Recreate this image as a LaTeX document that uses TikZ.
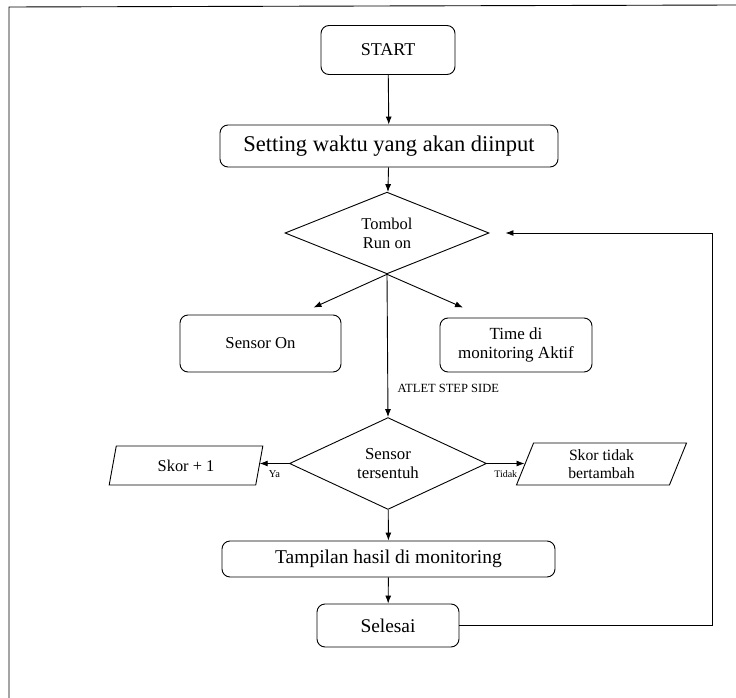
\documentclass[tikz,border=0pt]{standalone}
\usepackage{fontspec}
\setmainfont{Liberation Serif}
\usetikzlibrary{shapes.geometric,arrows.meta}

\begin{document}
\begin{tikzpicture}[x=1pt,y=-1pt,line width=0.9pt,
  box/.style={draw,rounded corners=8pt,inner sep=0pt,align=center},
  dec/.style={draw,diamond,inner sep=0pt,align=center},
  io/.style={draw,trapezium,trapezium stretches=true,inner sep=0pt,align=center},
  arr/.style={-{Latex[length=8pt,width=6pt]}}]
      \useasboundingbox (0,0) rectangle (736,698);
      \draw (9,698) -- (9,7) -- (736,5);
      \node[box,minimum width=134pt,minimum height=49pt,font=\fontsize{18}{21}\selectfont]
      (start) at (388,50) {START};
      \node[box,minimum width=338pt,minimum height=42pt,font=\fontsize{22.5}{26}\selectfont]
      (setting) at (389,146) {Setting waktu yang akan diinput};
      \node[dec,minimum width=204pt,minimum height=81pt,font=\fontsize{16.5}{19}\selectfont]
      (tombol) at (387,233) {Tombol\\Run on};
      \node[box,minimum width=161pt,minimum height=57pt,font=\fontsize{16.7}{19}\selectfont]
      (sensoron) at (260.5,343.5) {Sensor On};
      \node[box,minimum width=152pt,minimum height=54pt,font=\fontsize{17}{19}\selectfont]
      (timeon) at (516,345) {Time di\\monitoring Aktif};
      \node[dec,minimum width=197pt,minimum height=79pt,font=\fontsize{16.8}{19}\selectfont]
      (sensor) at (388,463.5) {Sensor\\tersentuh};
      \node[io,trapezium left angle=76,trapezium right angle=104,minimum width=154pt,
      minimum height=39pt,font=\fontsize{16.4}{19}\selectfont] (skorplus) at (186,465.5) {Skor + 1};
      \node[io,trapezium left angle=74,trapezium right angle=106,minimum width=171pt,
      minimum height=42pt,font=\fontsize{15.7}{18}\selectfont] (skortidak) at (601.5,464)
      {Skor tidak\\bertambah};
      \node[box,minimum width=333pt,minimum height=36pt,font=\fontsize{19.5}{22}\selectfont]
      (tampilan) at (388.5,559) {Tampilan hasil di monitoring};
      \node[box,minimum width=142pt,minimum height=43pt,font=\fontsize{19.4}{22}\selectfont]
      (selesai) at (388,625.5) {Selesai};
      \coordinate (back) at (712,233);
      \draw[arr] (start) -- (setting);
      \draw[arr] (setting) -- (tombol);
      \draw[arr] (tombol.south) -- ([xshift=53pt,yshift=7pt]sensoron.north);
      \draw[arr] (tombol.south) -- ([xshift=-53pt,yshift=10pt]timeon.north);
      \draw[arr] (tombol.south) -- (sensor.north)
      node[pos=0.8,anchor=west,xshift=6pt,font=\fontsize{12.5}{14}\selectfont]{ATLET STEP SIDE};
      \draw[arr] (sensor.west) -- (sensor.west -| skorplus.east)
      node[pos=0.5,anchor=north,yshift=-3pt,font=\fontsize{10.5}{12}\selectfont]{Ya};
      \draw[arr] (sensor.east) -- (sensor.east -| skortidak.west)
      node[pos=0.5,anchor=north,yshift=-3pt,font=\fontsize{10}{12}\selectfont]{Tidak};
      \draw[arr] (sensor) -- (tampilan);
      \draw[arr] (tampilan) -- (selesai);
      \draw[arr] (selesai.east) -| (back) -- ([xshift=16pt]tombol.east);
    \end{tikzpicture}
\end{document}
